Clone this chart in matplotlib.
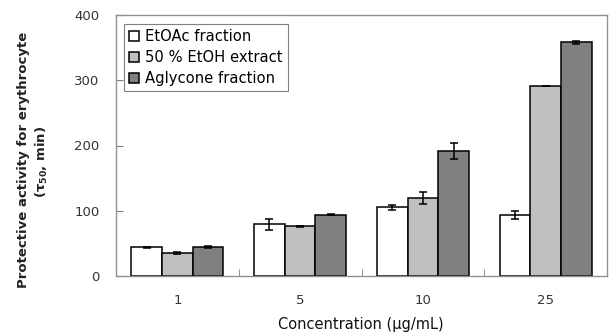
import numpy as np
import matplotlib
matplotlib.use("Agg")
import matplotlib.pyplot as plt

plt.rcParams['font.family'] = ['DejaVu Sans']

concentrations = ['1', '5', '10', '25']
series_names = ['EtOAc fraction', '50 % EtOH extract', 'Aglycone fraction']
etoac = [44, 79, 105, 94]
etoac_err = [0.5, 8, 4, 6]
etoh = [35, 76, 120, 291]
etoh_err = [1.5, 1, 9, 0.5]
aglycone = [44, 94, 192, 358]
aglycone_err = [1.5, 1, 12, 2]

values = [etoac, etoh, aglycone]
errors = [etoac_err, etoh_err, aglycone_err]
colors = ['white', '#c0c0c0', '#808080']

fig = plt.figure(figsize=(6.09, 3.36), dpi=100)
ax = fig.add_axes([116 / 609, 60 / 336, 491 / 609, 261 / 336])

x = np.arange(len(concentrations))
width = 0.25
for i in range(3):
    ax.bar(x + (i - 1) * width, values[i], width, color=colors[i],
           edgecolor='black', linewidth=1.1, label=series_names[i],
           yerr=errors[i], capsize=3.2,
           error_kw=dict(elinewidth=1.1, capthick=1.1, ecolor='black'))

ax.set_xlim(-0.5, 3.5)
ax.set_ylim(0, 400)
ax.set_yticks([0, 100, 200, 300, 400])
ax.set_xticks(x)
ax.set_xticklabels(concentrations)
ax.set_xticks([0.5, 1.5, 2.5], minor=True)

ax.tick_params(axis='x', which='major', length=0, pad=13, labelsize=9.5, labelcolor='#333333')
ax.tick_params(axis='x', which='minor', direction='in', length=5, color='#808080')
ax.tick_params(axis='y', direction='in', length=5, color='#808080', pad=12,
               labelsize=9.5, labelcolor='#333333')

for s in ax.spines.values():
    s.set_color('#909090')
    s.set_linewidth(1)

leg = ax.legend(loc='upper left', bbox_to_anchor=(0.0163, 0.9655), fontsize=10.6,
                fancybox=False, edgecolor='#808080', framealpha=1,
                handlelength=0.65, handleheight=0.65, handletextpad=0.45,
                borderpad=0.35, labelspacing=0.4, borderaxespad=0)
leg.get_frame().set_linewidth(0.8)

fig.text(24 / 609, 1 - 160 / 336, 'Protective activity for erythrocyte',
         rotation=90, ha='center', va='center', fontsize=9.5, fontweight='bold',
         color='#222222')
fig.text(42 / 609, 1 - 162 / 336, r'($\mathregular{\tau_{50}}$, min)',
         rotation=90, ha='center', va='center', fontsize=9.5, fontweight='bold',
         color='#222222')
fig.text(361 / 609, 1 - 325 / 336, 'Concentration (μg/mL)', ha='center', va='center',
         fontsize=10.5, color='#111111')

fig.savefig('out.png', dpi=100)
